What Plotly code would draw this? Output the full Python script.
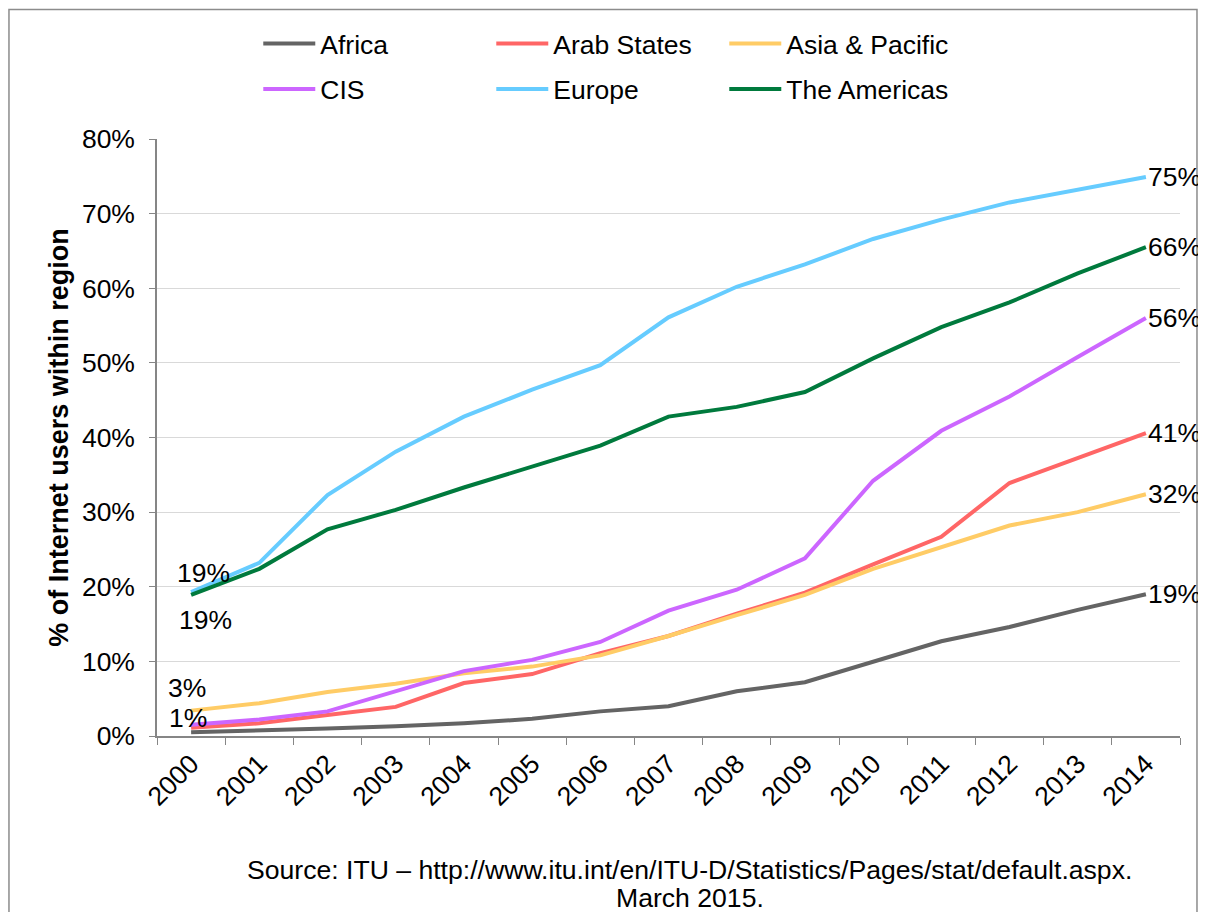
import plotly.graph_objects as go

YEARS = [str(y) for y in range(2000, 2015)]

AFRICA = [0.5, 0.7, 1.0, 1.3, 1.7, 2.3, 3.3, 4.0, 6.0, 7.2, 9.9, 12.7, 14.6, 16.9, 19.0]
ARAB = [1.1, 1.7, 2.8, 3.9, 7.1, 8.3, 11.1, 13.4, 16.4, 19.2, 23.0, 26.7, 33.9, 37.2, 40.6]
ASIA = [3.4, 4.4, 5.9, 7.0, 8.4, 9.3, 10.8, 13.4, 16.2, 18.9, 22.4, 25.3, 28.2, 30.0, 32.4]
CIS = [1.5, 2.2, 3.3, 6.0, 8.7, 10.2, 12.6, 16.8, 19.6, 23.8, 34.2, 40.9, 45.5, 50.8, 56.0]
EUROPE = [19.3, 23.2, 32.3, 38.1, 42.8, 46.4, 49.7, 56.1, 60.2, 63.2, 66.6, 69.2, 71.5, 73.2, 74.9]
AMERICAS = [18.9, 22.4, 27.7, 30.3, 33.3, 36.1, 38.9, 42.8, 44.1, 46.1, 50.6, 54.8, 58.1, 62.0, 65.5]

SERIES = [
    ("Africa", AFRICA, "#646464", "legend"),
    ("Arab States", ARAB, "#FF6666", "legend"),
    ("Asia & Pacific", ASIA, "#FFCC66", "legend"),
    ("CIS", CIS, "#CC66FF", "legend2"),
    ("Europe", EUROPE, "#66CCFF", "legend2"),
    ("The Americas", AMERICAS, "#007A3D", "legend2"),
]

# labels at the first year: (series values, xanchor, yanchor, xshift, yshift)
START_LABELS = [
    (EUROPE, "center", "bottom", 12, 2),
    (AMERICAS, "center", "top", 14, -8),
    (ASIA, "center", "bottom", -4, 6),
    (ARAB, "center", "bottom", -3, -7),
]

FONT = "Arial, 'Liberation Sans', sans-serif"
GRAY = "#868686"
FS = 26.5

fig = go.Figure()
for name, vals, color, leg in SERIES:
    fig.add_trace(go.Scatter(x=YEARS, y=vals, name=name, mode="lines",
                             line=dict(color=color, width=4), legend=leg))

# category axis: annotations use the category index
last = len(YEARS) - 1
for name, vals, color, leg in SERIES:
    fig.add_annotation(x=last, y=vals[-1], text=f"{round(vals[-1])}%",
                       showarrow=False, xanchor="left", yanchor="middle",
                       xshift=0, font=dict(size=FS, color="black"))
for vals, xa, ya, xs, ys in START_LABELS:
    fig.add_annotation(x=0, y=vals[0], text=f"{round(vals[0])}%",
                       showarrow=False, xanchor=xa, yanchor=ya,
                       xshift=xs, yshift=ys, font=dict(size=FS, color="black"))

# source note
fig.add_annotation(x=0.521, y=-0.2245, xref="paper", yref="paper", showarrow=False,
                   text="Source: ITU \u2013 http://www.itu.int/en/ITU-D/Statistics/Pages/stat/default.aspx.",
                   xanchor="center", yanchor="middle", font=dict(size=26.6, color="black"))
fig.add_annotation(x=0.521, y=-0.2714, xref="paper", yref="paper", showarrow=False,
                   text="March 2015.", xanchor="center", yanchor="middle",
                   font=dict(size=26.6, color="black"))

# outer frame
fig.add_shape(type="rect", xref="paper", yref="paper",
              x0=-0.1447, x1=1.0166, y0=-0.35, y1=1.2169,
              line=dict(color="#8c8c8c", width=1.5), fillcolor="rgba(0,0,0,0)", layer="below")

leg_common = dict(orientation="h", xanchor="left", yanchor="top",
                  font=dict(size=FS, color="black", family=FONT),
                  bgcolor="rgba(0,0,0,0)", itemwidth=52,
                  entrywidth=166, entrywidthmode="pixels", tracegroupgap=0)

fig.update_layout(
    width=1206, height=912,
    margin=dict(l=149, r=34, t=131, b=184),
    paper_bgcolor="white", plot_bgcolor="white",
    font=dict(family=FONT, size=FS, color="black"),
    showlegend=True,
    legend=dict(x=0.099, y=1.1995, **leg_common),
    legend2=dict(x=0.099, y=1.1235, **leg_common),
    xaxis=dict(type="category", tickson="boundaries", ticks="outside", ticklen=7,
               tickcolor=GRAY, showline=True, linecolor=GRAY, linewidth=1.5,
               showgrid=False, tickangle=-45, automargin=False,
               range=[-0.5, last + 0.5],
               tickfont=dict(size=FS, color="black")),
    yaxis=dict(range=[0, 80], dtick=10, ticksuffix="%", ticks="outside", ticklen=6,
               tickcolor=GRAY, showline=True, linecolor=GRAY, linewidth=1.5,
               gridcolor="#d9d9d9", gridwidth=1.2, zeroline=False, automargin=False,
               ticklabelstandoff=9, tickfont=dict(size=FS, color="black"),
               title=dict(text="<b>% of Internet users within region</b>", standoff=5,
                          font=dict(size=27, color="black"))),
)

fig.write_html("out.html")
